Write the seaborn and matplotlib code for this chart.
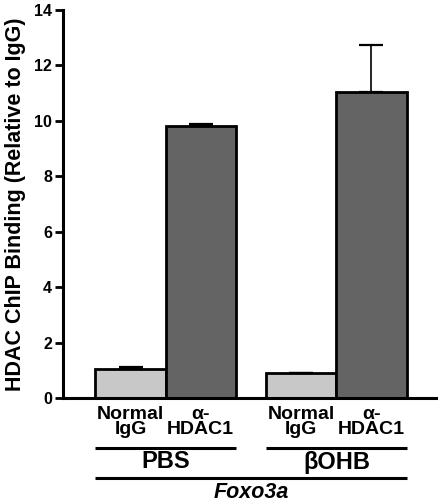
import matplotlib
matplotlib.use("Agg")
import matplotlib.pyplot as plt
import seaborn as sns
import pandas as pd
from matplotlib.transforms import blended_transform_factory

# ---- data ----
treatments = ["PBS", "βOHB"]
antibodies = ["Normal\nIgG", "α-\nHDAC1"]
pbs_values = [1.05, 9.82]
bohb_values = [0.90, 11.03]
pbs_err = [0.07, 0.07]
bohb_err = [0.02, 1.70]
gene_label = "Foxo3a"
ylabel = "HDAC ChIP Binding (Relative to IgG)"
yticks = [0, 2, 4, 6, 8, 10, 12, 14]

sns.set_theme(style="white")
plt.rcParams['font.family'] = ['Liberation Sans', 'DejaVu Sans']
plt.rcParams['font.weight'] = 'bold'

df = pd.DataFrame({
    "treatment": [treatments[0]] * 2 + [treatments[1]] * 2,
    "antibody": antibodies * 2,
    "value": pbs_values + bohb_values,
    "err": pbs_err + bohb_err,
})

fig = plt.figure(figsize=(4.39, 5.04), dpi=100)
ax = fig.add_axes([63 / 439, 106 / 504, 376 / 439, 388 / 504])

sns.barplot(data=df, x="treatment", y="value", hue="antibody",
            order=treatments, hue_order=antibodies,
            palette=["#c8c8c8", "#646464"], saturation=1,
            width=0.82, edgecolor="black", linewidth=2,
            errorbar=None, legend=False, ax=ax)

bar_containers = list(ax.containers)

# error bars (upper only)
centers = []
for hi, cont in enumerate(bar_containers):
    for ti, bar in enumerate(cont.patches):
        cx = bar.get_x() + bar.get_width() / 2
        h = bar.get_height()
        row = df[(df.treatment == treatments[ti]) & (df.antibody == antibodies[hi])].iloc[0]
        ax.errorbar([cx], [h], yerr=[[0], [row.err]], fmt="none",
                    ecolor="black", elinewidth=1.2, capsize=8.5, capthick=1.6,
                    zorder=1)
        centers.append((cx, antibodies[hi]))
centers.sort()

ax.set_xlim(-0.6, 1.6)
ax.set_ylim(0, 14)
ax.set_yticks(yticks)
ax.set_yticklabels([str(t) for t in yticks], fontsize=11.5, fontweight="bold")
ax.tick_params(axis="y", which="major", left=True, length=6, width=2, pad=2,
               color="black", labelcolor="black")
ax.set_xticks([c for c, _ in centers])
ax.set_xticklabels([l for _, l in centers], fontsize=14, fontweight="bold",
                   linespacing=0.85)
ax.tick_params(axis="x", length=0, pad=6, labelcolor="black")

for s in ["top", "right"]:
    ax.spines[s].set_visible(False)
for s in ["left", "bottom"]:
    ax.spines[s].set_linewidth(2.2)
    ax.spines[s].set_color("black")

ax.set_ylabel(ylabel, fontsize=15.5, fontweight="bold", labelpad=6, color="black")
ax.set_xlabel("")

trans = blended_transform_factory(ax.transData, fig.transFigure)
# group lines and labels
for ti, t in enumerate(treatments):
    bars = [bar_containers[hi].patches[ti] for hi in range(len(antibodies))]
    x0 = min(b.get_x() for b in bars)
    x1 = max(b.get_x() + b.get_width() for b in bars)
    ax.plot([x0, x1], [1 - 448 / 504] * 2, transform=trans, color="black",
            lw=2.2, clip_on=False, solid_capstyle="butt")
    ax.text((x0 + x1) / 2, 1 - 462 / 504, t, transform=trans, ha="center",
            va="center", fontsize=17, fontweight="bold", color="black")

allbars = [b for c in bar_containers for b in c.patches]
gx0 = min(b.get_x() for b in allbars)
gx1 = max(b.get_x() + b.get_width() for b in allbars)
ax.plot([gx0, gx1], [1 - 478 / 504] * 2, transform=trans, color="black",
        lw=2.2, clip_on=False, solid_capstyle="butt")
ax.text((gx0 + gx1) / 2, 1 - 493 / 504, gene_label, transform=trans, ha="center",
        va="center", fontsize=15.5, fontweight="bold", fontstyle="italic",
        color="black")

fig.savefig("out.png", dpi=100)
